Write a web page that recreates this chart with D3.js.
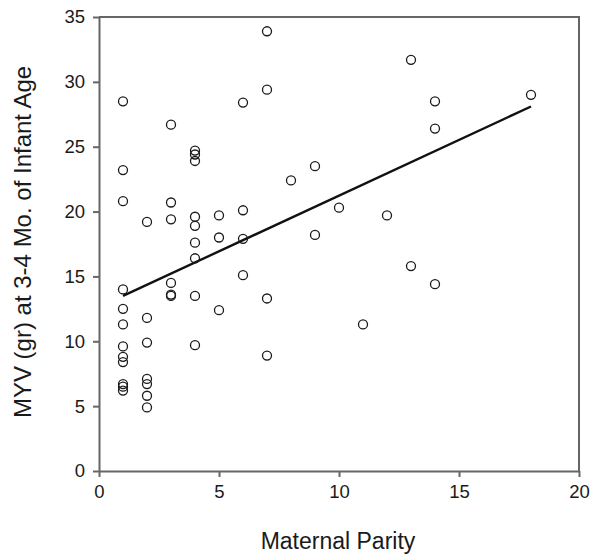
<!DOCTYPE html>
<html>
<head>
<meta charset="utf-8">
<script src="https://cdn.jsdelivr.net/npm/d3@7/dist/d3.min.js"></script>
<style>
  html, body { margin: 0; padding: 0; background: #fff; }
  svg { display: block; }
  text { font-family: "Liberation Sans", Arial, Helvetica, sans-serif; }
</style>
</head>
<body>
<svg id="chart" width="600" height="560"></svg>
<script>
// ---- data ----
const parity = [
  1,1,1,1,1,1,1,1,1,1,1,1,
  2,2,2,2,2,2,2,
  3,3,3,3,3,3,
  4,4,4,4,4,4,4,4,4,
  5,5,5,
  6,6,6,6,
  7,7,7,7,
  8,
  9,9,
  10,
  11,
  12,
  13,13,
  14,14,14,
  18
];
const myv = [
  28.5,23.2,20.8,14.0,12.5,11.3,9.6,8.8,8.4,6.7,6.5,6.2,
  19.2,11.8,9.9,7.1,6.7,5.8,4.9,
  26.7,20.7,19.4,14.5,13.6,13.5,
  24.7,24.4,23.9,19.6,18.9,17.6,16.4,13.5,9.7,
  19.7,18.0,12.4,
  28.4,20.1,17.9,15.1,
  33.9,29.4,13.3,8.9,
  22.4,
  23.5,18.2,
  20.3,
  11.3,
  19.7,
  31.7,15.8,
  28.5,26.4,14.4,
  29.0
];
const fitX = [1, 18];
const fitY = [13.5, 28.1];
const xTicks = [0, 5, 10, 15, 20];
const yTicks = [0, 5, 10, 15, 20, 25, 30, 35];
const xTitle = "Maternal Parity";
const yTitle = "MYV (gr) at 3-4 Mo. of Infant Age";

// ---- layout ----
const svg = d3.select("#chart");
const mL = 99, mR = 579, mT = 17, mB = 471;
const x = d3.scaleLinear().domain([0, 20]).range([mL, mR]);
const y = d3.scaleLinear().domain([0, 35]).range([mB, mT]);
const frameColor = "#666";

// frame (top & right)
svg.append("path")
  .attr("d", `M${mL},${mT}H${mR}V${mB}`)
  .attr("fill", "none").attr("stroke", frameColor).attr("stroke-width", 2);

// x axis
const gx = svg.append("g").attr("transform", `translate(0,${mB})`)
  .call(d3.axisBottom(x).tickValues(xTicks).tickSize(6).tickSizeOuter(0).tickPadding(8));
// y axis
const gy = svg.append("g").attr("transform", `translate(${mL},0)`)
  .call(d3.axisLeft(y).tickValues(yTicks).tickSize(6).tickSizeOuter(0).tickPadding(8));

[gx, gy].forEach(g => {
  g.select(".domain").attr("stroke", frameColor).attr("stroke-width", 2);
  g.selectAll(".tick line").attr("stroke", frameColor).attr("stroke-width", 2);
  g.selectAll(".tick text").attr("fill", "#1a1a1a")
    .style("font-size", "18.5px")
    .style("font-family", '"Liberation Sans", Arial, sans-serif');
});

// regression line
svg.append("line")
  .attr("x1", x(fitX[0])).attr("y1", y(fitY[0]))
  .attr("x2", x(fitX[1])).attr("y2", y(fitY[1]))
  .attr("stroke", "#111").attr("stroke-width", 2.4);

// points
svg.append("g").selectAll("circle")
  .data(parity.map((p, i) => ({ p, v: myv[i] })))
  .join("circle")
  .attr("cx", d => x(d.p))
  .attr("cy", d => y(d.v))
  .attr("r", 4.5)
  .attr("fill", "none")
  .attr("stroke", "#1a1a1a")
  .attr("stroke-width", 1.3);

// titles
svg.append("text")
  .attr("x", (mL + mR) / 2 - 1).attr("y", 549)
  .attr("text-anchor", "middle")
  .attr("fill", "#1a1a1a")
  .style("font-size", "23px")
  .text(xTitle);

svg.append("text")
  .attr("transform", `translate(31,${242}) rotate(-90)`)
  .attr("text-anchor", "middle")
  .attr("fill", "#1a1a1a")
  .style("font-size", "24px")
  .text(yTitle);
</script>
</body>
</html>
